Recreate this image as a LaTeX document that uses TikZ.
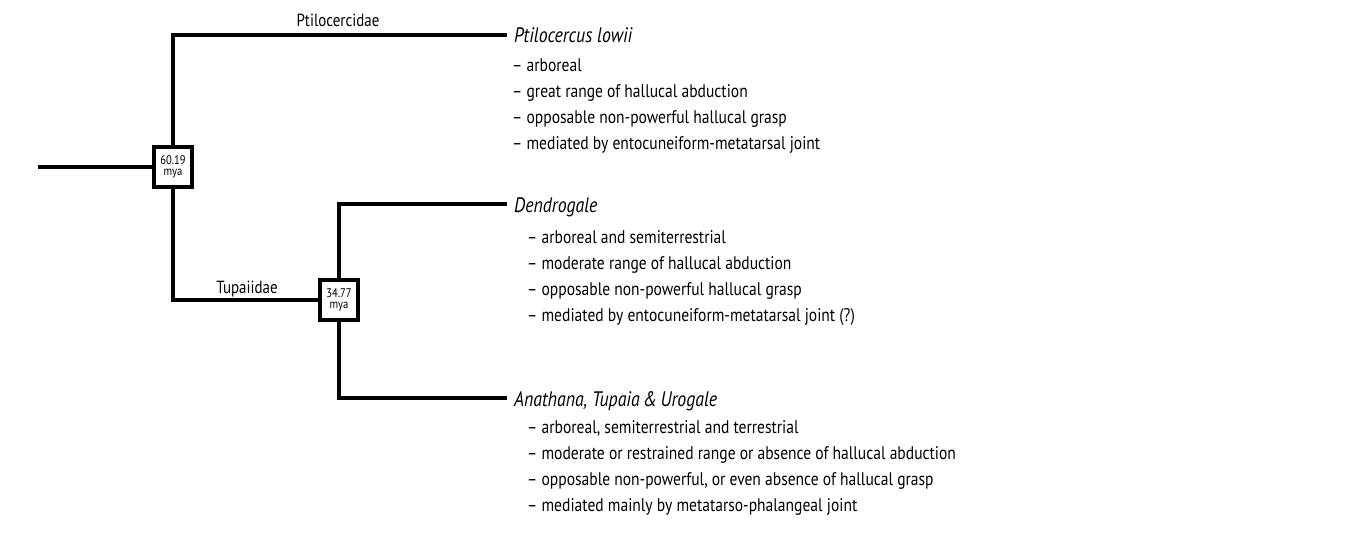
\documentclass[tikz,border=0pt]{standalone}
\usepackage{fontspec}
\setmainfont[FakeStretch=0.85]{PT Sans}
\usetikzlibrary{positioning}
\tikzset{
  branch/.style = {line width=4pt},
  agebox/.style = {rectangle, draw=black, line width=4pt, fill=white, minimum width=38pt, minimum height=40pt, inner sep=1pt, align=center, font=\fontsize{12.5}{11.5}\selectfont},
  taxon/.style = {anchor=base west, inner sep=0pt, font=\fontsize{21}{21}\selectfont\itshape},
  traits/.style = {anchor=north west, align=left, inner sep=0pt, font=\fontsize{18.3}{26}\selectfont},
  clade/.style = {anchor=base, inner sep=0pt, font=\fontsize{17.6}{17.6}\selectfont}
}

\begin{document}
\begin{tikzpicture}[x=1pt, y=-1pt]

  \useasboundingbox (0,0) rectangle (1362,546);

  % nodes of the tree
  \coordinate (root) at (38,167);
  \node (n1) [agebox] at (173,167) {60.19\\mya};
  \node (n2) [agebox] at (339,300) {34.77\\mya};

  % tips
  \coordinate (tipP) at (507,35);
  \coordinate (tipD) at (507,204);
  \coordinate (tipA) at (507,398);

  % branches
  \draw[branch] (root) -- (n1.west);
  \draw[branch] (n1.north) |- (tipP);
  \draw[branch] (n1.south) |- (n2.west);
  \draw[branch] (n2.north) |- (tipD);
  \draw[branch] (n2.south) |- (tipA);

  % clade names
  \node (ptilocercidae) [clade] at (338,27) {Ptilocercidae};
  \node (tupaiidae) [clade] at (247,293) {Tupaiidae};

  % taxa
  \node (ptilocercus) [taxon] at (514,42) {Ptilocercus lowii};
  \node (dendrogale) [taxon] at (514,212) {Dendrogale};
  \node (anathana) [taxon] at (514,406) {Anathana, Tupaia\,\&\,Urogale};

  % traits
  \node (trP) [traits] at (512,58) {
    -- arboreal\\
    -- great range of hallucal abduction\\
    -- opposable non-powerful hallucal grasp\\
    -- mediated by entocuneiform-metatarsal joint
  };
  \node (trD) [traits] at (527,230) {
    -- arboreal and semiterrestrial\\
    -- moderate range of hallucal abduction\\
    -- opposable non-powerful hallucal grasp\\
    -- mediated by entocuneiform-metatarsal joint (?)
  };
  \node (trA) [traits] at (527,420) {
    -- arboreal, semiterrestrial and terrestrial\\
    -- moderate or restrained range or absence of hallucal abduction\\
    -- opposable non-powerful, or even absence of hallucal grasp\\
    -- mediated mainly by metatarso-phalangeal joint
  };

\end{tikzpicture}
\end{document}
